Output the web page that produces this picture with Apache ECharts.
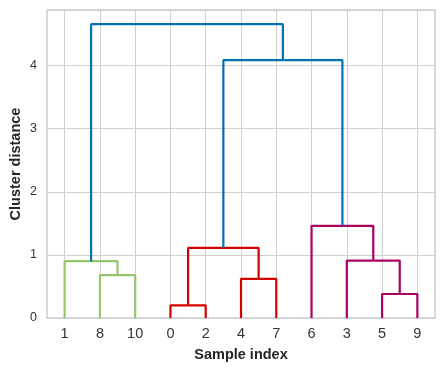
<!DOCTYPE html>
<html><head><meta charset="utf-8">
<script src="https://cdn.jsdelivr.net/npm/echarts@6/dist/echarts.min.js"></script>
<style>html,body{margin:0;padding:0;background:#fff}#c{width:444px;height:372px}</style>
</head><body><div id="c"></div>
<script>
// Leaf order (sample indices)
const leaves = ['1','8','10','0','2','4','7','6','3','5','9'];
// Link x-coords in leaf-position units (like scipy icoord)
const linkX = [
  [1,1,2,2],
  [0,0,1.5,1.5],
  [3,3,4,4],
  [5,5,6,6],
  [3.5,3.5,5.5,5.5],
  [9,9,10,10],
  [8,8,9.5,9.5],
  [7,7,8.75,8.75],
  [4.5,4.5,7.875,7.875],
  [0.75,0.75,6.1875,6.1875]
];
// Link heights (cluster distance, like scipy dcoord)
const linkY = [
  [0,0.68,0.68,0],
  [0,0.90,0.90,0.68],
  [0,0.20,0.20,0],
  [0,0.62,0.62,0],
  [0.20,1.11,1.11,0.62],
  [0,0.38,0.38,0],
  [0,0.91,0.91,0.38],
  [0,1.46,1.46,0.91],
  [1.11,4.085,4.085,1.46],
  [0.90,4.655,4.655,4.085]
];
const linkGroup = ['g','g','r','r','r','m','m','m','b','b'];
const groupColors = {g:'#97C56D', r:'#D40000', m:'#AB0062', b:'#0072B2'};
const yTicks = [0,1,2,3,4];

const series = linkX.map((xs,i)=>({
  type:'line', xAxisIndex:1, yAxisIndex:0, symbol:'none', silent:true, animation:false,
  lineStyle:{color:groupColors[linkGroup[i]], width:2.2},
  data: xs.map((x,j)=>[x, linkY[i][j]])
}));

const FONT = 'Liberation Sans, Arial, sans-serif';
const chart = echarts.init(document.getElementById('c'), null, {renderer:'canvas'});
chart.setOption({
  backgroundColor:'#fff',
  animation:false,
  grid:{left:47, right:9, top:10, bottom:54, show:true, borderColor:'#cccccc', borderWidth:1.5, backgroundColor:'#fff', containLabel:false, outerBoundsMode:'none'},
  xAxis:[{
    type:'category', data:leaves, boundaryGap:true,
    name:'Sample index', nameLocation:'middle', nameGap:29, nameMoveOverlap:false,
    nameTextStyle:{fontFamily:FONT, fontWeight:'bold', fontSize:14.5, color:'#262626'},
    axisLine:{show:false}, axisTick:{show:false, alignWithLabel:true},
    axisLabel:{fontFamily:FONT, fontSize:14.5, color:'#333333', margin:8, interval:0},
    splitLine:{show:true, alignWithLabel:true, lineStyle:{color:'#d0d0d0', width:1}}
  },{
    type:'value', min:-0.5, max:10.5, show:false
  }],
  yAxis:[{
    type:'value', min:0, max:4.88, interval:1,
    name:'Cluster distance', nameLocation:'middle', nameGap:24, nameMoveOverlap:false,
    nameTextStyle:{fontFamily:FONT, fontWeight:'bold', fontSize:14.5, color:'#262626'},
    axisLine:{show:false}, axisTick:{show:false},
    axisLabel:{fontFamily:FONT, fontSize:12.5, color:'#333333', margin:10, showMaxLabel:false,
      formatter:v=> yTicks.indexOf(v)>=0 ? String(v) : ''},
    splitLine:{show:true, lineStyle:{color:'#d0d0d0', width:1}}
  }],
  series: series
});
</script></body></html>
